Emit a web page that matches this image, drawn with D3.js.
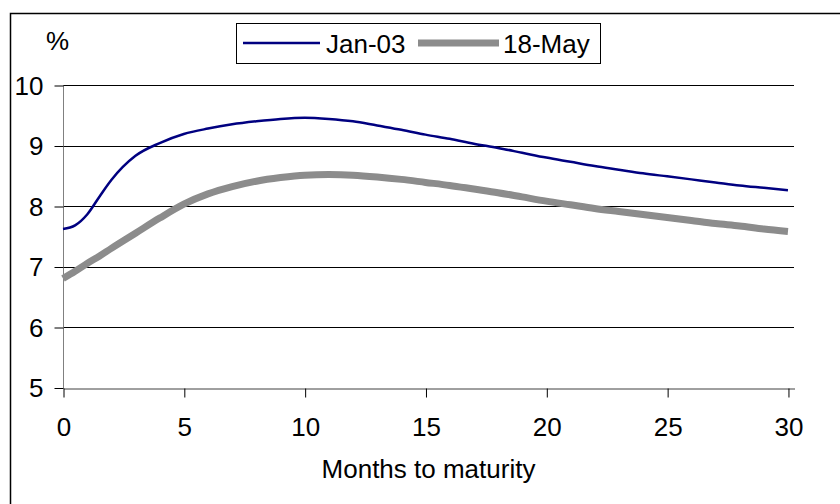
<!DOCTYPE html>
<html>
<head>
<meta charset="utf-8">
<script src="https://cdn.jsdelivr.net/npm/d3@7"></script>
<style>
  body { margin: 0; background: #fff; }
  text { font-family: "Liberation Sans", Arial, sans-serif; fill: #000; }
</style>
</head>
<body>
<div id="chart"></div>
<script>
// months to maturity
const months = [0, 0.5, 1, 1.5, 2, 3, 4, 5, 6, 7, 8, 9, 10, 11, 12, 13, 14, 15, 16, 17, 18, 19, 20,
    21, 22, 23, 24, 25, 26, 27, 28, 29, 30];
const jan03 = [7.62, 7.68, 7.86, 8.15, 8.43, 8.83, 9.04, 9.19, 9.28, 9.35, 9.40, 9.44, 9.46, 9.44, 9.40,
    9.33, 9.26, 9.18, 9.11, 9.03, 8.96, 8.88, 8.80, 8.73, 8.66, 8.60, 8.54, 8.49, 8.44, 8.39, 8.34, 8.30, 8.26];
const may18 = [6.80, 6.92, 7.05, 7.17, 7.30, 7.55, 7.80, 8.03, 8.20, 8.32, 8.41, 8.47, 8.51, 8.52, 8.51,
    8.48, 8.44, 8.39, 8.34, 8.28, 8.22, 8.15, 8.08, 8.02, 7.96, 7.91, 7.86, 7.81, 7.76, 7.71, 7.67, 7.62, 7.58];
const xTicks = [0, 5, 10, 15, 20, 25, 30];
const yTicks = [5, 6, 7, 8, 9, 10];

const width = 840, height = 504;

const svg = d3.select("#chart")
    .append("svg")
    .attr("width", width)
    .attr("height", height);

// outer frame (only left / top edges visible in the picture)
svg.append("rect")
    .attr("x", 10.5).attr("y", 13.5)
    .attr("width", 900).attr("height", 600)
    .attr("fill", "none")
    .attr("stroke", "#000")
    .attr("stroke-width", 1.5);

const x = d3.scaleLinear().domain([0, 30.25]).range([63, 794]);
const y = d3.scaleLinear().domain([5, 10]).range([387.5, 85]);

// gridlines
svg.append("g")
    .selectAll("line")
    .data(yTicks.filter(d => d > 5))
    .enter().append("line")
    .attr("x1", x(0)).attr("x2", x(30.25))
    .attr("y1", d => Math.round(y(d)) + 0.5)
    .attr("y2", d => Math.round(y(d)) + 0.5)
    .attr("stroke", "#000")
    .attr("stroke-width", 1);

// y axis
const yAxis = svg.append("g")
    .attr("transform", "translate(" + (x(0) + 0.5) + ",0.5)")
    .call(d3.axisLeft(y).tickValues(yTicks).tickSize(9).tickPadding(11).tickFormat(d3.format("d")));
yAxis.select(".domain").attr("stroke", "#808080").attr("d", "M0," + Math.round(y(10)) + "V" + Math.round(y(5)));
yAxis.selectAll(".tick line").attr("stroke", "#000");
yAxis.selectAll(".tick text")
    .attr("font-size", 26)
    .attr("font-family", "'Liberation Sans', Arial, sans-serif")
    .attr("dy", "0.34em");

// x axis
const xAxis = svg.append("g")
    .attr("transform", "translate(0.5," + (Math.round(y(5)) + 0.5) + ")")
    .call(d3.axisBottom(x).tickValues(xTicks).tickSize(9).tickPadding(20).tickSizeOuter(0));
xAxis.select(".domain").attr("stroke", "#404040");
xAxis.selectAll(".tick line").attr("stroke", "#000");
xAxis.selectAll(".tick text")
    .attr("font-size", 26)
    .attr("font-family", "'Liberation Sans', Arial, sans-serif");

svg.append("text")
    .attr("x", 428.5).attr("y", 478)
    .attr("text-anchor", "middle")
    .attr("font-size", 26)
    .text("Months to maturity");

svg.append("text")
    .attr("x", 46).attr("y", 50)
    .attr("font-size", 26)
    .text("%");

const line = d3.line()
    .x(d => x(d[0]))
    .y(d => y(d[1]))
    .curve(d3.curveMonotoneX);

svg.append("path")
    .datum(months.map((m, i) => [m, may18[i]]))
    .attr("fill", "none")
    .attr("stroke", "#8c8c8c")
    .attr("stroke-width", 7)
    .attr("d", line);

svg.append("path")
    .datum(months.map((m, i) => [m, jan03[i]]))
    .attr("fill", "none")
    .attr("stroke", "#000080")
    .attr("stroke-width", 2.5)
    .attr("d", line);

// legend
const legend = svg.append("g");
legend.append("rect")
    .attr("x", 236.5).attr("y", 23.5)
    .attr("width", 364).attr("height", 40)
    .attr("fill", "#fff")
    .attr("stroke", "#000")
    .attr("stroke-width", 1);
legend.append("line")
    .attr("x1", 243).attr("x2", 320).attr("y1", 43).attr("y2", 43)
    .attr("stroke", "#000080").attr("stroke-width", 2.5);
legend.append("text")
    .attr("x", 326).attr("y", 53)
    .attr("font-size", 26)
    .text("Jan-03");
legend.append("line")
    .attr("x1", 418).attr("x2", 499).attr("y1", 43).attr("y2", 43)
    .attr("stroke", "#8c8c8c").attr("stroke-width", 7);
legend.append("text")
    .attr("x", 503).attr("y", 53)
    .attr("font-size", 26)
    .text("18-May");
</script>
</body>
</html>
